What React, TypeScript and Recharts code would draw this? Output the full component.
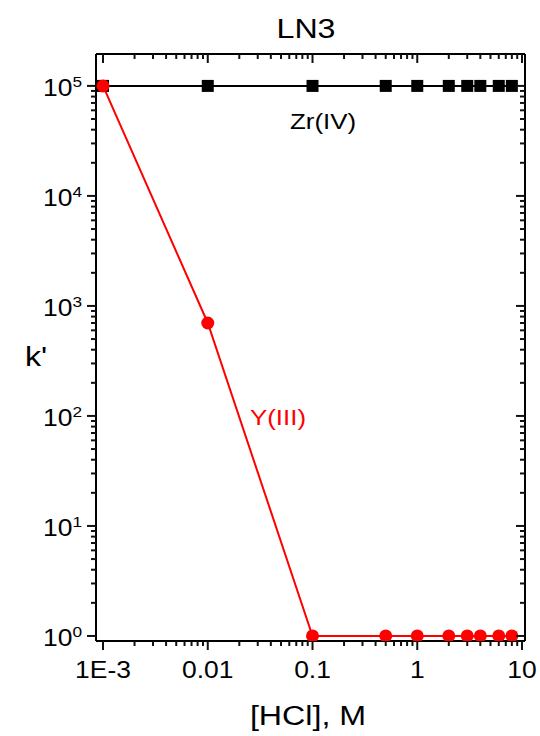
import { Line, LineChart, XAxis, YAxis } from "recharts"

const hcl = [0.001, 0.01, 0.1, 0.5, 1, 2, 3, 4, 6, 8]
const zrK = [1e5, 1e5, 1e5, 1e5, 1e5, 1e5, 1e5, 1e5, 1e5, 1e5]
const yK = [1e5, 700, 1, 1, 1, 1, 1, 1, 1, 1]

const xMajor = [0.001, 0.01, 0.1, 1, 10]
const xMajorLabels = ["1E-3", "0.01", "0.1", "1", "10"]
const yMajor = [1, 10, 100, 1000, 10000, 100000]
const yExponents = ["0", "1", "2", "3", "4", "5"]
const minorSteps = [2, 3, 4, 5, 6, 7, 8, 9]

const xDomain = [0.000857, 10.68]
const yDomain = [0.9, 195000]

// both axes are drawn in log10 units on linear scales
const lg = Math.log10
const xTicks = [...xMajor, ...xMajor.slice(0, -1).flatMap(d => minorSteps.map(m => d * m))].map(lg).sort((a, b) => a - b)
const yTicks = [...yMajor, ...yMajor.flatMap(d => minorSteps.map(m => d * m))].filter(v => v <= yDomain[1]).map(lg).sort((a, b) => a - b)
const xLabelTicks = xMajor.map(lg)
const yLabelTicks = yMajor.map(lg)

const data = hcl.map((x, i) => ({ x, zr: zrK[i], y: yK[i] }))

const font = "'Liberation Sans', Arial, sans-serif"

const majorIndex = (list: number[], v: number) => list.findIndex(m => Math.abs(v - lg(m)) < 1e-6)

// the reference glyphs are a bit wider than Arial
const T = ({ x, y, size, anchor = "middle", fill = "#000", children }: any) => (
  <text transform={`translate(${x} ${y}) scale(1.15 1)`} textAnchor={anchor} fontSize={size} fontFamily={font} fill={fill}>
    {children}
  </text>
)

// tick marks only: outward on bottom/left, inward on top/right
const XMark = (p: any) => {
  const { x, y, payload } = p
  const len = majorIndex(xMajor, payload.value) >= 0 ? 9 : 5
  return <line x1={x} x2={x} y1={y} y2={y + len} stroke="#111111" strokeWidth={2} />
}

const YMark = (p: any) => {
  const { x, y, payload } = p
  const len = majorIndex(yMajor, payload.value) >= 0 ? 9 : 5
  return <line x1={x} x2={x - len} y1={y} y2={y} stroke="#111111" strokeWidth={2} />
}

// labels only
const XLabel = (p: any) => {
  const { x, y, payload } = p
  const i = majorIndex(xMajor, payload.value)
  return i < 0 ? <g /> : <T x={x} y={y + 36} size={23}>{xMajorLabels[i]}</T>
}

const YLabel = (p: any) => {
  const { x, y, payload } = p
  const i = majorIndex(yMajor, payload.value)
  return i < 0 ? <g /> : (
    <T x={x - 13} y={y + 10.5} size={23} anchor="end">
      <tspan>10</tspan>
      <tspan fontSize={15} dy={-9}>{yExponents[i]}</tspan>
    </T>
  )
}

const Square = (p: any) =>
  p.cx == null ? <g key={p.index} /> : <rect key={p.index} x={p.cx - 6} y={p.cy - 6} width={12} height={12} fill="#000" />

export default function App() {
  const axisLine = { stroke: "#000", strokeWidth: 2 }
  const xd = xDomain.map(lg)
  const yd = yDomain.map(lg)
  const common = { type: "number" as const, allowDataOverflow: true, interval: 0, minTickGap: 0, tickSize: 0, tickMargin: 0, tickLine: false }
  const xKey = (d: any) => lg(d.x)
  return (
    <div style={{ position: "absolute", left: 0, top: 0, width: 540, height: 736, background: "#fff" }}>
      <LineChart width={540} height={736} data={data} margin={{ top: 53, right: 14, bottom: 93, left: 94 }}>
        <XAxis xAxisId="b" dataKey={xKey} domain={xd} ticks={xTicks} height={1}
          axisLine={axisLine} tick={<XMark />} {...common} />
        <XAxis xAxisId="bl" dataKey={xKey} domain={xd} ticks={xLabelTicks} height={1}
          axisLine={false} tick={<XLabel />} {...common} />
        <XAxis xAxisId="t" orientation="top" dataKey={xKey} domain={xd} ticks={xTicks} height={1}
          axisLine={axisLine} tick={<XMark />} {...common} />
        <YAxis yAxisId="l" domain={yd} ticks={yTicks} width={1}
          axisLine={axisLine} tick={<YMark />} {...common} />
        <YAxis yAxisId="ll" domain={yd} ticks={yLabelTicks} width={1}
          axisLine={false} tick={<YLabel />} {...common} />
        <YAxis yAxisId="r" orientation="right" domain={yd} ticks={yTicks} width={1}
          axisLine={axisLine} tick={<YMark />} {...common} />
        <Line xAxisId="b" yAxisId="l" dataKey={(d: any) => lg(d.zr)} stroke="#000" strokeWidth={2} dot={Square}
          activeDot={false} isAnimationActive={false} />
        <Line xAxisId="b" yAxisId="l" dataKey={(d: any) => lg(d.y)} stroke="#ff0000" strokeWidth={2}
          dot={{ r: 6.5, fill: "#ff0000", stroke: "#ff0000", strokeWidth: 0 }}
          activeDot={false} isAnimationActive={false} />
      </LineChart>
      <svg width={540} height={736} style={{ position: "absolute", left: 0, top: 0, pointerEvents: "none" }}>
        <T x={306} y={38} size={28}>LN3</T>
        <T x={36} y={366} size={28}>k'</T>
        <T x={308} y={725} size={28}>[HCl], M</T>
        <T x={323} y={129} size={22.5}>Zr(IV)</T>
        <T x={278} y={425} size={22.5} fill="#ff0000">Y(III)</T>
      </svg>
    </div>
  )
}
